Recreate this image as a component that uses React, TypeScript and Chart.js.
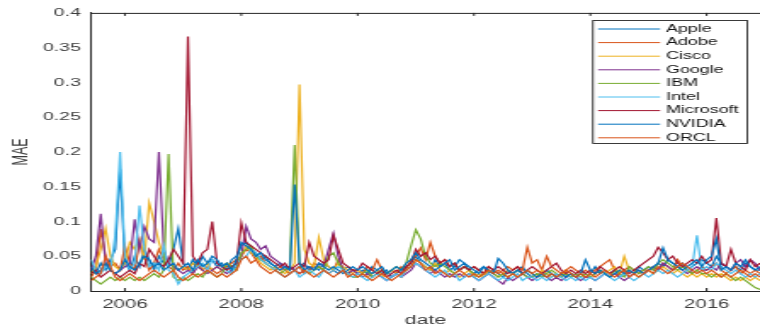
import React, { useEffect, useRef } from "react";
import { Chart, registerables } from "chart.js";

Chart.register(...registerables);

// ---------- data ----------
const SERIES_NAMES = ["Apple", "Adobe", "Cisco", "Google", "IBM", "Intel", "Microsoft", "NVIDIA", "ORCL"];
const COLORS = ["#0072BD", "#D95319", "#EDB120", "#7E2F8E", "#77AC30", "#4DBEEE", "#A2142F", "#0072BD", "#D95319"];
const START_YEAR = 2005;
const START_MONTH = 6; // first monthly value: June 2005
const X_TICKS = [2006, 2008, 2010, 2012, 2014, 2016];
const Y_TICKS = [0, 0.05, 0.1, 0.15, 0.2, 0.25, 0.3, 0.35, 0.4];

const apple = [
  0.03, 0.025, 0.04, 0.03, 0.045, 0.06, 0.175,
  0.04, 0.03, 0.05, 0.035, 0.06, 0.045, 0.03, 0.05, 0.04, 0.035, 0.06, 0.09,
  0.04, 0.03, 0.045, 0.035, 0.05, 0.04, 0.045, 0.035, 0.04, 0.03, 0.045, 0.05,
  0.065, 0.07, 0.06, 0.055, 0.045, 0.05, 0.04, 0.035, 0.04, 0.03, 0.035, 0.03,
  0.035, 0.04, 0.03, 0.035, 0.03, 0.04, 0.035, 0.03, 0.025, 0.03, 0.035, 0.03,
  0.025, 0.03, 0.025, 0.035, 0.03, 0.025, 0.03, 0.02, 0.025, 0.03, 0.035, 0.04,
  0.05, 0.04, 0.035, 0.03, 0.045, 0.035, 0.04, 0.03, 0.035, 0.045, 0.04, 0.03,
  0.025, 0.03, 0.035, 0.025, 0.03, 0.025, 0.02, 0.03, 0.025, 0.03, 0.035, 0.025,
  0.02, 0.025, 0.02, 0.03, 0.025, 0.02, 0.025, 0.02, 0.025, 0.02, 0.025, 0.02,
  0.025, 0.035, 0.025, 0.03, 0.025, 0.03, 0.02, 0.025, 0.03, 0.025, 0.035, 0.03,
  0.035, 0.03, 0.04, 0.035, 0.045, 0.04, 0.035, 0.04, 0.03, 0.035, 0.04, 0.045,
  0.04, 0.035, 0.05, 0.04, 0.035, 0.03, 0.035, 0.03, 0.04, 0.035, 0.03, 0.03,
];

const adobe = [
  0.02, 0.03, 0.089, 0.05, 0.035, 0.04, 0.03,
  0.065, 0.04, 0.03, 0.07, 0.05, 0.03, 0.04, 0.06, 0.045, 0.035, 0.03, 0.04,
  0.03, 0.035, 0.025, 0.04, 0.03, 0.035, 0.03, 0.025, 0.03, 0.035, 0.04, 0.045,
  0.05, 0.06, 0.055, 0.045, 0.05, 0.04, 0.035, 0.03, 0.035, 0.03, 0.025, 0.03,
  0.035, 0.025, 0.03, 0.04, 0.035, 0.03, 0.025, 0.03, 0.045, 0.03, 0.025, 0.03,
  0.03, 0.025, 0.035, 0.03, 0.045, 0.03, 0.025, 0.03, 0.025, 0.035, 0.03, 0.045,
  0.05, 0.062, 0.045, 0.07, 0.05, 0.04, 0.045, 0.035, 0.04, 0.03, 0.035, 0.03,
  0.035, 0.03, 0.025, 0.035, 0.03, 0.025, 0.03, 0.035, 0.03, 0.035, 0.03, 0.063,
  0.04, 0.045, 0.03, 0.05, 0.035, 0.03, 0.025, 0.03, 0.035, 0.03, 0.025, 0.03,
  0.025, 0.03, 0.035, 0.04, 0.045, 0.03, 0.025, 0.03, 0.035, 0.03, 0.025, 0.03,
  0.03, 0.035, 0.03, 0.04, 0.035, 0.03, 0.045, 0.035, 0.03, 0.025, 0.03, 0.035,
  0.03, 0.035, 0.04, 0.03, 0.025, 0.03, 0.035, 0.025, 0.03, 0.025, 0.03, 0.025,
];

const cisco = [
  0.025, 0.035, 0.06, 0.09, 0.05, 0.035, 0.03,
  0.04, 0.07, 0.06, 0.075, 0.045, 0.127, 0.1, 0.07, 0.05, 0.04, 0.035, 0.03,
  0.035, 0.03, 0.04, 0.035, 0.03, 0.04, 0.03, 0.035, 0.03, 0.04, 0.035, 0.04,
  0.05, 0.065, 0.055, 0.05, 0.04, 0.035, 0.03, 0.035, 0.03, 0.025, 0.03, 0.04,
  0.297, 0.06, 0.04, 0.035, 0.077, 0.045, 0.035, 0.03, 0.04, 0.035, 0.03, 0.025,
  0.03, 0.025, 0.02, 0.025, 0.03, 0.02, 0.025, 0.03, 0.025, 0.02, 0.03, 0.035,
  0.045, 0.04, 0.035, 0.03, 0.04, 0.03, 0.025, 0.03, 0.025, 0.02, 0.025, 0.03,
  0.02, 0.025, 0.02, 0.03, 0.025, 0.02, 0.025, 0.03, 0.025, 0.02, 0.025, 0.03,
  0.025, 0.02, 0.03, 0.025, 0.02, 0.025, 0.02, 0.03, 0.025, 0.02, 0.025, 0.02,
  0.02, 0.025, 0.03, 0.025, 0.03, 0.035, 0.025, 0.05, 0.03, 0.025, 0.02, 0.025,
  0.03, 0.025, 0.03, 0.035, 0.03, 0.025, 0.03, 0.025, 0.02, 0.025, 0.02, 0.025,
  0.02, 0.025, 0.02, 0.025, 0.02, 0.015, 0.02, 0.015, 0.02, 0.015, 0.02, 0.015,
];

const google = [
  0.03, 0.05, 0.111, 0.04, 0.03, 0.025, 0.03,
  0.035, 0.04, 0.103, 0.06, 0.093, 0.075, 0.07, 0.2, 0.06, 0.04, 0.035, 0.03,
  0.025, 0.03, 0.025, 0.035, 0.03, 0.025, 0.03, 0.035, 0.03, 0.025, 0.03, 0.035,
  0.05, 0.093, 0.075, 0.07, 0.06, 0.065, 0.05, 0.045, 0.04, 0.035, 0.035, 0.03,
  0.025, 0.03, 0.035, 0.03, 0.04, 0.035, 0.06, 0.083, 0.05, 0.03, 0.025, 0.03,
  0.025, 0.02, 0.025, 0.02, 0.025, 0.02, 0.015, 0.02, 0.025, 0.02, 0.025, 0.03,
  0.04, 0.035, 0.03, 0.025, 0.03, 0.025, 0.02, 0.025, 0.02, 0.025, 0.02, 0.025,
  0.02, 0.015, 0.02, 0.025, 0.02, 0.015, 0.01, 0.02, 0.015, 0.02, 0.025, 0.02,
  0.015, 0.02, 0.025, 0.02, 0.015, 0.02, 0.015, 0.02, 0.025, 0.02, 0.015, 0.02,
  0.02, 0.015, 0.02, 0.025, 0.02, 0.025, 0.02, 0.015, 0.02, 0.025, 0.03, 0.025,
  0.03, 0.035, 0.03, 0.04, 0.035, 0.03, 0.035, 0.03, 0.025, 0.03, 0.035, 0.03,
  0.03, 0.035, 0.03, 0.04, 0.035, 0.03, 0.04, 0.045, 0.035, 0.045, 0.04, 0.03,
];

const ibm = [
  0.02, 0.015, 0.01, 0.015, 0.02, 0.015, 0.02,
  0.015, 0.02, 0.015, 0.02, 0.015, 0.02, 0.025, 0.02, 0.03, 0.197, 0.02, 0.015,
  0.02, 0.015, 0.02, 0.025, 0.02, 0.03, 0.025, 0.02, 0.025, 0.04, 0.035, 0.03,
  0.055, 0.06, 0.065, 0.05, 0.045, 0.04, 0.035, 0.03, 0.025, 0.03, 0.035, 0.21,
  0.04, 0.03, 0.025, 0.03, 0.035, 0.03, 0.05, 0.055, 0.04, 0.03, 0.025, 0.02,
  0.02, 0.025, 0.03, 0.02, 0.025, 0.03, 0.025, 0.03, 0.035, 0.03, 0.04, 0.065,
  0.088, 0.075, 0.05, 0.04, 0.035, 0.04, 0.035, 0.03, 0.025, 0.03, 0.035, 0.03,
  0.025, 0.02, 0.025, 0.03, 0.025, 0.02, 0.025, 0.02, 0.025, 0.03, 0.025, 0.02,
  0.02, 0.025, 0.02, 0.025, 0.03, 0.025, 0.02, 0.025, 0.02, 0.025, 0.02, 0.025,
  0.02, 0.025, 0.03, 0.025, 0.02, 0.03, 0.025, 0.02, 0.035, 0.03, 0.025, 0.03,
  0.035, 0.03, 0.04, 0.045, 0.04, 0.035, 0.03, 0.035, 0.03, 0.025, 0.03, 0.025,
  0.025, 0.02, 0.025, 0.02, 0.025, 0.02, 0.015, 0.02, 0.015, 0.01, 0.005, 0.002,
];

const intel = [
  0.045, 0.03, 0.025, 0.035, 0.03, 0.08, 0.2,
  0.05, 0.03, 0.04, 0.123, 0.06, 0.035, 0.04, 0.03, 0.065, 0.03, 0.025, 0.01,
  0.02, 0.025, 0.03, 0.035, 0.04, 0.03, 0.045, 0.04, 0.035, 0.03, 0.025, 0.04,
  0.045, 0.05, 0.06, 0.055, 0.045, 0.04, 0.035, 0.03, 0.025, 0.02, 0.025, 0.03,
  0.02, 0.025, 0.03, 0.025, 0.02, 0.03, 0.025, 0.03, 0.035, 0.03, 0.025, 0.02,
  0.025, 0.02, 0.015, 0.02, 0.025, 0.02, 0.015, 0.02, 0.025, 0.02, 0.03, 0.035,
  0.04, 0.035, 0.03, 0.025, 0.02, 0.025, 0.03, 0.02, 0.025, 0.015, 0.02, 0.025,
  0.02, 0.015, 0.02, 0.025, 0.02, 0.015, 0.02, 0.015, 0.02, 0.025, 0.015, 0.02,
  0.02, 0.015, 0.02, 0.015, 0.02, 0.025, 0.02, 0.015, 0.02, 0.015, 0.02, 0.015,
  0.02, 0.015, 0.02, 0.025, 0.02, 0.015, 0.02, 0.025, 0.02, 0.015, 0.02, 0.025,
  0.02, 0.025, 0.03, 0.025, 0.03, 0.025, 0.02, 0.025, 0.03, 0.035, 0.08, 0.03,
  0.035, 0.03, 0.04, 0.035, 0.03, 0.025, 0.03, 0.025, 0.02, 0.025, 0.02, 0.025,
];

const microsoft = [
  0.025, 0.03, 0.02, 0.025, 0.03, 0.025, 0.02,
  0.025, 0.03, 0.025, 0.04, 0.035, 0.06, 0.05, 0.04, 0.035, 0.045, 0.06, 0.05,
  0.04, 0.366, 0.05, 0.04, 0.055, 0.06, 0.1, 0.04, 0.035, 0.03, 0.035, 0.04,
  0.098, 0.07, 0.065, 0.06, 0.055, 0.05, 0.045, 0.04, 0.035, 0.04, 0.03, 0.035,
  0.04, 0.035, 0.07, 0.05, 0.045, 0.04, 0.045, 0.08, 0.06, 0.04, 0.035, 0.03,
  0.03, 0.04, 0.035, 0.03, 0.025, 0.03, 0.02, 0.025, 0.03, 0.025, 0.035, 0.04,
  0.06, 0.05, 0.055, 0.045, 0.05, 0.04, 0.045, 0.035, 0.04, 0.03, 0.035, 0.03,
  0.035, 0.03, 0.025, 0.035, 0.03, 0.035, 0.03, 0.025, 0.03, 0.035, 0.025, 0.03,
  0.035, 0.03, 0.025, 0.03, 0.035, 0.04, 0.03, 0.025, 0.03, 0.025, 0.03, 0.025,
  0.03, 0.025, 0.035, 0.03, 0.025, 0.03, 0.035, 0.03, 0.025, 0.03, 0.035, 0.04,
  0.045, 0.05, 0.063, 0.055, 0.045, 0.05, 0.04, 0.035, 0.04, 0.045, 0.04, 0.05,
  0.04, 0.045, 0.105, 0.04, 0.035, 0.06, 0.04, 0.035, 0.03, 0.045, 0.035, 0.04,
];

const nvidia = [
  0.035, 0.025, 0.03, 0.04, 0.03, 0.025, 0.03,
  0.045, 0.035, 0.03, 0.04, 0.05, 0.045, 0.035, 0.04, 0.03, 0.035, 0.04, 0.03,
  0.035, 0.04, 0.03, 0.045, 0.035, 0.04, 0.05, 0.045, 0.035, 0.04, 0.03, 0.045,
  0.07, 0.065, 0.06, 0.05, 0.055, 0.045, 0.04, 0.035, 0.03, 0.035, 0.03, 0.153,
  0.04, 0.03, 0.035, 0.03, 0.04, 0.035, 0.03, 0.035, 0.03, 0.025, 0.03, 0.035,
  0.03, 0.035, 0.03, 0.025, 0.03, 0.035, 0.025, 0.03, 0.035, 0.03, 0.04, 0.045,
  0.055, 0.045, 0.04, 0.035, 0.03, 0.035, 0.04, 0.045, 0.03, 0.035, 0.04, 0.035,
  0.03, 0.025, 0.035, 0.03, 0.025, 0.047, 0.04, 0.03, 0.025, 0.03, 0.025, 0.03,
  0.025, 0.02, 0.025, 0.02, 0.025, 0.02, 0.025, 0.02, 0.025, 0.02, 0.025, 0.045,
  0.03, 0.025, 0.03, 0.025, 0.02, 0.025, 0.03, 0.025, 0.03, 0.025, 0.03, 0.025,
  0.03, 0.035, 0.04, 0.062, 0.045, 0.04, 0.035, 0.03, 0.035, 0.04, 0.045, 0.035,
  0.045, 0.05, 0.075, 0.03, 0.035, 0.03, 0.04, 0.035, 0.045, 0.035, 0.03, 0.035,
];

const orcl = [
  0.015, 0.02, 0.025, 0.05, 0.035, 0.02, 0.015,
  0.02, 0.025, 0.02, 0.015, 0.02, 0.025, 0.03, 0.025, 0.02, 0.025, 0.03, 0.02,
  0.015, 0.02, 0.025, 0.02, 0.025, 0.03, 0.025, 0.02, 0.025, 0.02, 0.025, 0.03,
  0.045, 0.05, 0.04, 0.045, 0.035, 0.03, 0.025, 0.03, 0.025, 0.02, 0.025, 0.03,
  0.025, 0.03, 0.025, 0.02, 0.025, 0.03, 0.025, 0.02, 0.025, 0.03, 0.02, 0.025,
  0.02, 0.025, 0.02, 0.015, 0.02, 0.025, 0.02, 0.015, 0.02, 0.025, 0.03, 0.035,
  0.045, 0.04, 0.03, 0.035, 0.025, 0.03, 0.025, 0.02, 0.025, 0.03, 0.025, 0.02,
  0.025, 0.02, 0.025, 0.03, 0.025, 0.03, 0.025, 0.02, 0.025, 0.02, 0.025, 0.03,
  0.025, 0.03, 0.025, 0.02, 0.025, 0.02, 0.025, 0.03, 0.025, 0.02, 0.025, 0.02,
  0.025, 0.02, 0.025, 0.03, 0.025, 0.02, 0.025, 0.03, 0.02, 0.025, 0.02, 0.025,
  0.03, 0.025, 0.035, 0.03, 0.025, 0.03, 0.035, 0.04, 0.035, 0.03, 0.025, 0.03,
  0.025, 0.03, 0.025, 0.02, 0.025, 0.02, 0.025, 0.03, 0.025, 0.02, 0.025, 0.02,
];

const SERIES = [apple, adobe, cisco, google, ibm, intel, microsoft, nvidia, orcl];

// ---------- layout (the reference is a horizontally stretched figure) ----------
const STRETCH = 1.7;
const OUT_W = 760;
const OUT_H = 331;
const CW = Math.round(OUT_W / STRETCH);
const PLOT_LEFT = 91 / STRETCH;
const PLOT_TOP = 10;
const PLOT_BOTTOM = 291;
const FONT = "'Liberation Sans', Arial, Helvetica, sans-serif";
const AXIS_COLOR = "#262626";
const TEXT_COLOR = "#3c3c3c";

const monthX = (i: number) => START_YEAR + (START_MONTH - 1 + i) / 12;
const X_MIN = monthX(0);
const X_MAX = monthX(apple.length - 1);

const framePlugin = {
  id: "matlabFrame",
  afterDraw(chart: any) {
    const { ctx, chartArea: a, scales } = chart;
    ctx.save();
    ctx.strokeStyle = AXIS_COLOR;
    ctx.lineWidth = 1;
    ctx.beginPath();
    ctx.moveTo(a.left, a.top + 0.5);
    ctx.lineTo(a.right, a.top + 0.5);
    for (const t of X_TICKS) {
      const px = scales.x.getPixelForValue(t);
      ctx.moveTo(px, a.bottom);
      ctx.lineTo(px, a.bottom - 3);
      ctx.moveTo(px, a.top);
      ctx.lineTo(px, a.top + 3);
    }
    ctx.stroke();

    // legend box (MATLAB "northeast")
    const bx0 = 592 / STRETCH;
    const bx1 = 748 / STRETCH;
    const by0 = 20;
    const by1 = 144;
    ctx.fillStyle = "#ffffff";
    ctx.fillRect(bx0, by0, bx1 - bx0, by1 - by0);
    ctx.lineWidth = 0.9;
    ctx.strokeStyle = AXIS_COLOR;
    ctx.strokeRect(bx0 + 0.5, by0 + 0.5, bx1 - bx0 - 1, by1 - by0 - 1);
    const lx0 = 598 / STRETCH;
    const lx1 = 660 / STRETCH;
    const tx = 666 / STRETCH;
    ctx.font = `10.5px ${FONT}`;
    ctx.textBaseline = "middle";
    ctx.textAlign = "left";
    SERIES_NAMES.forEach((name, k) => {
      const y = 28.5 + 13.6 * k;
      ctx.strokeStyle = COLORS[k];
      ctx.lineWidth = 1;
      ctx.beginPath();
      ctx.moveTo(lx0, y + 0.5);
      ctx.lineTo(lx1, y + 0.5);
      ctx.stroke();
      ctx.fillStyle = "#111111";
      ctx.fillText(name, tx, y + 0.5);
    });
    ctx.restore();
  },
};

export default function App() {
  const ref = useRef<HTMLCanvasElement | null>(null);

  useEffect(() => {
    const canvas = ref.current;
    if (!canvas) return;
    const chart = new Chart(canvas, {
      type: "line",
      data: {
        datasets: SERIES.map((vals, k) => ({
          label: SERIES_NAMES[k],
          data: vals.map((v, i) => ({ x: monthX(i), y: v })),
          borderColor: COLORS[k],
          backgroundColor: COLORS[k],
          borderWidth: 1.2,
          pointRadius: 0,
          tension: 0,
          fill: false,
          order: SERIES.length - k,
        })),
      },
      options: {
        responsive: false,
        animation: false,
        devicePixelRatio: 1,
        events: [],
        layout: { padding: { left: 0, right: 0, top: PLOT_TOP, bottom: 0 } },
        plugins: {
          legend: { display: false },
          tooltip: { enabled: false },
        },
        scales: {
          x: {
            type: "linear",
            min: X_MIN,
            max: X_MAX,
            afterBuildTicks: (s: any) => {
              s.ticks = X_TICKS.map((v) => ({ value: v }));
            },
            afterFit: (s: any) => {
              s.height = OUT_H - PLOT_BOTTOM;
            },
            grid: { display: false, drawTicks: false },
            border: { display: true, color: AXIS_COLOR, width: 1 },
            ticks: {
              autoSkip: false,
              maxRotation: 0,
              padding: 6,
              color: TEXT_COLOR,
              font: { family: FONT, size: 12 },
              callback: (v: any) => String(v),
            },
            title: {
              display: true,
              text: "date",
              color: TEXT_COLOR,
              font: { family: FONT, size: 12.5 },
              padding: { top: 0, bottom: 3 },
            },
          },
          y: {
            type: "linear",
            min: 0,
            max: 0.4,
            afterBuildTicks: (s: any) => {
              s.ticks = Y_TICKS.map((v) => ({ value: v }));
            },
            afterFit: (s: any) => {
              s.width = PLOT_LEFT;
            },
            grid: { display: false, drawTicks: false },
            border: { display: true, color: AXIS_COLOR, width: 1 },
            ticks: {
              autoSkip: false,
              padding: 6,
              color: TEXT_COLOR,
              font: { family: FONT, size: 11.5 },
              callback: (v: any) => String(Number(Number(v).toFixed(2))),
            },
            title: {
              display: true,
              text: "MAE",
              color: TEXT_COLOR,
              font: { family: FONT, size: 12.5 },
              padding: { top: 5, bottom: 0 },
            },
          },
        },
      },
      plugins: [framePlugin],
    } as any);
    return () => chart.destroy();
  }, []);

  return (
    <div
      style={{
        position: "absolute",
        left: 0,
        top: 0,
        width: OUT_W,
        height: OUT_H,
        overflow: "hidden",
        background: "#ffffff",
      }}
    >
      <canvas
        ref={ref}
        width={CW}
        height={OUT_H}
        style={{ width: `${OUT_W}px`, height: `${OUT_H}px`, display: "block" }}
      />
    </div>
  );
}
